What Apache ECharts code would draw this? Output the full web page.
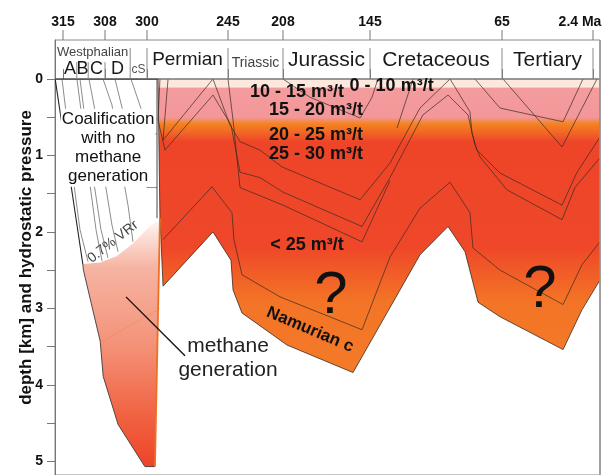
<!DOCTYPE html>
<html><head><meta charset="utf-8">
<script src="https://cdn.jsdelivr.net/npm/echarts@6/dist/echarts.min.js"></script>
<style>html,body{margin:0;padding:0;background:#fff}#c{width:613px;height:475px}</style>
</head><body><div id="c"></div>
<script>
// ---------------- DATA ----------------
// time axis (Ma) tick labels and depth (km) ticks
const timeTicks = [315, 308, 300, 245, 208, 145, 65, 2.4];
const depthTicks = [0, 1, 2, 3, 4, 5];
const periods = ['Permian', 'Triassic', 'Jurassic', 'Cretaceous', 'Tertiary'];
const periodBounds = [300, 245, 208, 145, 65, 2.4];
const stages = ['A', 'B', 'C', 'D', 'cS'];
const stageBounds = [315, 312.7, 310.8, 308, 303.2, 300];

// base of Namurian C (bottom of the coal-bearing section), Ma / km
const baseMa    = [289.1, 255.2, 243.0, 241.6, 235.6, 205.1, 157.3, 114.7, 97.7, 87.4, 79.5, 66.2, 23.0, 10.0, -2.4];
const baseDepth = [2.71, 2.00, 2.37, 2.76, 3.06, 3.48, 3.84, 2.30, 1.93, 2.26, 2.92, 3.11, 3.54, 3.02, 2.63];
// top of Namurian C
const namTopMa    = [289.1, 255.9, 242.3, 241.0, 235.6, 210.0, 150.8, 132.9, 114.7, 96.5, 84.4, 82.6, 66.2, 23.0, 10.0, -2.4];
const namTopDepth = [2.10, 1.41, 1.75, 2.10, 2.56, 2.85, 3.28, 2.33, 1.69, 1.35, 1.75, 2.21, 2.50, 2.95, 2.43, 2.13];
// burial curves of younger horizons
const h1Ma = [285.7, 289.1, 255.2, 243.7, 236.9, 223.5, 208.7, 152.2, 132.9, 114.7, 96.5, 84.4, 83.2, 80.2, 66.2, 23.7, 13.4, -2.4];
const h1D  = [0, 0.80, 0, 0.60, 0.82, 0.93, 1.15, 1.58, 1.10, 0.38, 0, 0.43, 0.71, 0.93, 1.23, 1.65, 1.22, 0.76];
const h2Ma = [291.2, 292.5, 287.8, 255.2, 243.0, 236.9, 223.5, 208.0, 150.8, 132.9, 112.9, 97.7, 85.6, 81.4, 78.3, 61.6, 23.7, 14.8, -2.4];
const h2D  = [0, 0.54, 0.93, 0.21, 0.60, 1.22, 1.29, 1.48, 1.93, 1.29, 0.47, 0.21, 0.47, 0.86, 1.02, 1.45, 1.84, 1.42, 1.03];
const h3Ma = [245, 241.6, 236.9, 208.0, 150.8, 132.9];
const h3D  = [0, 0.54, 1.42, 1.65, 2.13, 1.33];
const j1Ma = [208, 188.4, 152.2, 143.8, 140.2];
const j1D  = [0, 0.24, 0.51, 0.24, 0];
const j2Ma = [118.9, 128.6];
const j2D  = [0, 0.64];
const t1Ma = [81.4, 66.2, 23.0, 9.3];
const t1D  = [0, 0.38, 0.56, 0];
const t2Ma = [64.3, 23.7, -0.35];
const t2D  = [0, 0.89, 0];
// methane generation window (Westphalian)
const methMa = [311.7, 308.8, 305.8, 302.6, 300.1, 291.2, 294.6, 300.4, 305.5, 308.3, 308.8, 311.6];
const methD  = [2.42, 2.40, 2.32, 2.15, 1.97, 1.82, 5.07, 5.07, 4.52, 3.89, 3.43, 2.50];
// basin margin (left boundary of Westphalian section)
const marginMa = [316.3, 311.7];
const marginD  = [0, 2.42];
// coalification isolines
const coalLinesMa = [
  [315.17, 314.5, 313.5, 312.17, 310.83],
  [312.67, 312.0, 310.83, 309.5, 308.5],
  [312.17, 311.5, 310.17, 308.67, 307.43],
  [310.67, 309.67, 308.33, 306.67, 305.52],
  [308.33, 306.67, 305.14, 303.62, 302.67],
  [306.1, 303.24, 300.95, 300, 293.2],
  [303.05, 300.38, 298.0, 293.2]
];
const coalLinesD = [
  [0, 0.43, 1.19, 1.97, 2.39],
  [0, 0.41, 1.19, 1.97, 2.38],
  [0, 0.41, 1.19, 1.97, 2.34],
  [0, 0.41, 1.19, 1.91, 2.26],
  [0, 0.34, 1.06, 1.65, 2.13],
  [0, 0.80, 1.29, 1.42, 1.42],
  [0, 0.54, 0.71, 0.72]
];
const gasContent = ['0 - 10 m³/t', '10 - 15 m³/t', '15 - 20 m³/t', '20 - 25 m³/t', '25 - 30 m³/t', '< 25 m³/t'];

// ---------------- SCALE (non-linear geological time axis) ----------------
const scaleMa = [316.33, 315, 308, 300, 245, 208, 145, 65, 2.4, -2.42];
const scaleU  = [0, 8, 50, 92, 173, 228, 315, 447, 538, 545];
function toU(ma) {
  let i = 0;
  while (i < scaleMa.length - 2 && ma < scaleMa[i + 1]) i++;
  return scaleU[i] + (ma - scaleMa[i]) * (scaleU[i + 1] - scaleU[i]) / (scaleMa[i + 1] - scaleMa[i]);
}
const FONT = '"Liberation Sans", Arial, sans-serif';

function pts(ma, d, api) { return ma.map((m, i) => api.coord([toU(m), d[i]])); }
function gradient(api, d0, d1, stops) {
  const y0 = api.coord([0, d0])[1], y1 = api.coord([0, d1])[1];
  return { type: 'linear', x: 0, y: y0, x2: 0, y2: y1, global: true,
    colorStops: stops.map(s => ({ offset: (s[0] - d0) / (d1 - d0), color: s[1] })) };
}
function custom(z, fn, noClip) {
  return { type: 'custom', coordinateSystem: 'cartesian2d', silent: true, z: z, clip: !noClip,
    data: [[0, 0]], renderItem: (p, api) => fn(api) };
}
function line(ma, d, color, width, z, opacity, noClip) {
  return custom(z || 4, api => ({ type: 'polyline', shape: { points: pts(ma, d, api) },
    style: { stroke: color, lineWidth: width, fill: null, opacity: opacity == null ? 1 : opacity } }), noClip);
}

// main gas-content body
const mainMa = [292.5, -2.4].concat(baseMa.slice().reverse(), [290.5, 291.2, 292.5]);
const mainD  = [0, 0].concat(baseDepth.slice().reverse(), [2.10, 1.82, 0]);

const series = [];
series.push(custom(2, api => ({ type: 'polygon', shape: { points: pts(mainMa, mainD, api) },
  style: { fill: gradient(api, 0, 3.9, [
    [0, '#fde8de'], [0.105, '#fde8de'], [0.12, '#f49c9d'], [0.50, '#f3979a'], [0.59, '#f4821f'],
    [0.70, '#f26626'], [0.82, '#ee4529'], [2.2, '#ef4729'], [2.9, '#f37426'], [3.9, '#f47b28']]),
    stroke: '#3a2a22', lineWidth: 0.8 } })));
series.push(custom(3, api => ({ type: 'polygon', shape: { points: pts(methMa, methD, api) },
  style: { fill: gradient(api, 1.82, 5.07, [[1.82, '#fff8f6'], [2.47, '#f6b4a2'], [3.45, '#f4937a'], [4.42, '#f06240'], [5.07, '#ee4429']]) } })));
// methane polygon outlines
series.push(line(methMa.slice(6).concat([methMa[0]]), methD.slice(6).concat([methD[0]]), '#3a3a3a', 0.9, 5));
series.push(line([291.2, 294.6], [1.82, 5.07], '#f07020', 1.8, 5));
series.push(line([308.8, 291.2], [3.45, 3.0], '#f08040', 0.8, 5, 0.5));
// lines
series.push(line(namTopMa, namTopDepth, '#3a2a22', 0.7));
[[h1Ma, h1D], [h2Ma, h2D], [h3Ma, h3D], [j1Ma, j1D], [j2Ma, j2D], [t1Ma, t1D], [t2Ma, t2D]].forEach(l => series.push(line(l[0], l[1], '#3a2a22', 0.7)));
coalLinesMa.forEach((m, i) => series.push(line(m, coalLinesD[i], '#6e6e6e', 0.8)));
series.push(line(marginMa, marginD, '#222', 1.1, 5));
series.push(line([293.2, 293.2], [0, 1.82], '#333', 0.9, 5));
// box bottom line and dividers
series.push(line([316.33, -2.42], [0, 0], '#888', 1, 6));
series.push(line([316.33, 292.5], [0, 0], '#333', 1, 6));
periodBounds.forEach(b => series.push(line([b, b], [-0.405, 0], '#888', 1, 6)));
[312.7, 310.8, 308].forEach(b => series.push(line([b, b], [-0.22, 0], '#888', 1, 6)));
series.push(line([303.2, 303.2], [-0.405, 0], '#888', 1, 6));
// time ticks above the stratigraphic box
timeTicks.forEach(t => series.push(line([t, t], [-0.51, -0.64], '#777', 1, 6, 1, true)));
// right frame
series.push(line([-2.42, -2.42], [-0.51, 5.18], '#999', 1.6, 6, 1, true));
// leader line for "methane generation"
series.push(line([304.0, 274.2], [2.85, 3.62], '#111', 1.4, 7));

// ---------------- TEXTS ----------------
const texts = [];
function txt(u, d, text, size, opts) { texts.push(Object.assign({ u: u, d: d, text: text, size: size }, opts || {})); }
const mid = (a, b) => (toU(a) + toU(b)) / 2;
const periodSize = [19, 14, 21, 21, 21];
periods.forEach((p, i) => txt(mid(periodBounds[i], periodBounds[i + 1]), i === 1 ? -0.21 : -0.25, p, periodSize[i], { color: i === 1 ? '#444' : '#1a1a1a' }));
stages.forEach((s, i) => txt(mid(stageBounds[i], stageBounds[i + 1]), i === 4 ? -0.12 : -0.13, s, i === 4 ? 12 : 18, { color: i === 4 ? '#555' : '#1a1a1a' }));
txt((toU(316.33) + toU(303.2)) / 2, -0.35, 'Westphalian', 13, { color: '#444' });
const gasMa = [131.9, 197.9, 184.1, 184.1, 184.1, 190.6];
const gasD = [0.09, 0.17, 0.41, 0.73, 0.98, 2.17];
gasContent.forEach((g, i) => txt(toU(gasMa[i]), gasD[i], g, 18, { bold: true }));
txt(toU(173.2), 2.85, '?', 60);
txt(toU(38.9), 2.76, '?', 60);
txt(toU(188.4), 3.28, 'Namurian c', 17, { bold: true, rot: -23 });
txt(toU(306.5), 2.13, '0.7% VRr', 14, { rot: 38, color: '#444' });
txt(toU(307.4), 0.90, 'Coalification\nwith no\nmethane\ngeneration', 17, { lh: 19, bg: '#fff', color: '#111' });
txt(toU(245), 3.65, 'methane\ngeneration', 21, { lh: 24, color: '#222' });

series.push({ type: 'custom', coordinateSystem: 'cartesian2d', silent: true, z: 10, clip: false,
  data: texts.map((t, i) => [t.u, t.d, i]),
  renderItem: (p, api) => {
    const t = texts[api.value(2)];
    const c = api.coord([api.value(0), api.value(1)]);
    return { type: 'text', x: c[0], y: c[1], rotation: (t.rot || 0) * Math.PI / 180,
      style: { text: t.text, fill: t.color || '#111', align: 'center', verticalAlign: 'middle',
        font: (t.bold ? 'bold ' : '') + t.size + 'px ' + FONT, lineHeight: t.lh,
        backgroundColor: t.bg, padding: t.bg ? [1, 1] : 0 } };
  } });

// ---------------- CHART ----------------
const chart = echarts.init(document.getElementById('c'));
chart.setOption({
  animation: false,
  backgroundColor: '#fff',
  grid: { left: 55, right: 13, top: 40, bottom: 0, show: true, borderColor: '#8a8a8a', borderWidth: 1 },
  xAxis: {
    type: 'value', position: 'top', min: 0, max: 545,
    axisLine: { show: true, lineStyle: { color: '#888' } },
    axisTick: { show: true, length: 10, lineStyle: { color: '#777' }, customValues: timeTicks.map(toU) },
    axisLabel: {
      customValues: timeTicks.map(toU), margin: 11, color: '#111', fontWeight: 'bold', fontSize: 14, fontFamily: FONT,
      formatter: v => {
        const t = timeTicks.find(tt => Math.abs(toU(tt) - v) < 0.01);
        return t === 2.4 ? '{r|2.4 Ma}' : String(t);
      },
      rich: { r: { fontSize: 14, fontWeight: 'bold', color: '#111', fontFamily: FONT, padding: [0, 26, 0, 0] } }
    },
    splitLine: { show: false }
  },
  yAxis: {
    type: 'value', inverse: true, min: -0.51, max: 5.18,
    name: 'depth [km] and hydrostatic pressure', nameLocation: 'middle', nameGap: 20, nameMoveOverlap: false,
    nameTextStyle: { fontSize: 17, fontWeight: 'bold', color: '#111', fontFamily: FONT },
    axisLine: { show: true, lineStyle: { color: '#777' } },
    axisTick: { show: true, length: 8, lineStyle: { color: '#777' }, customValues: [0, 0.5, 1, 1.5, 2, 2.5, 3, 3.5, 4, 4.5, 5] },
    axisLabel: { customValues: depthTicks, margin: 12, color: '#111', fontWeight: 'bold', fontSize: 14, fontFamily: FONT },
    splitLine: { show: false }
  },
  series: series
});
</script></body></html>
